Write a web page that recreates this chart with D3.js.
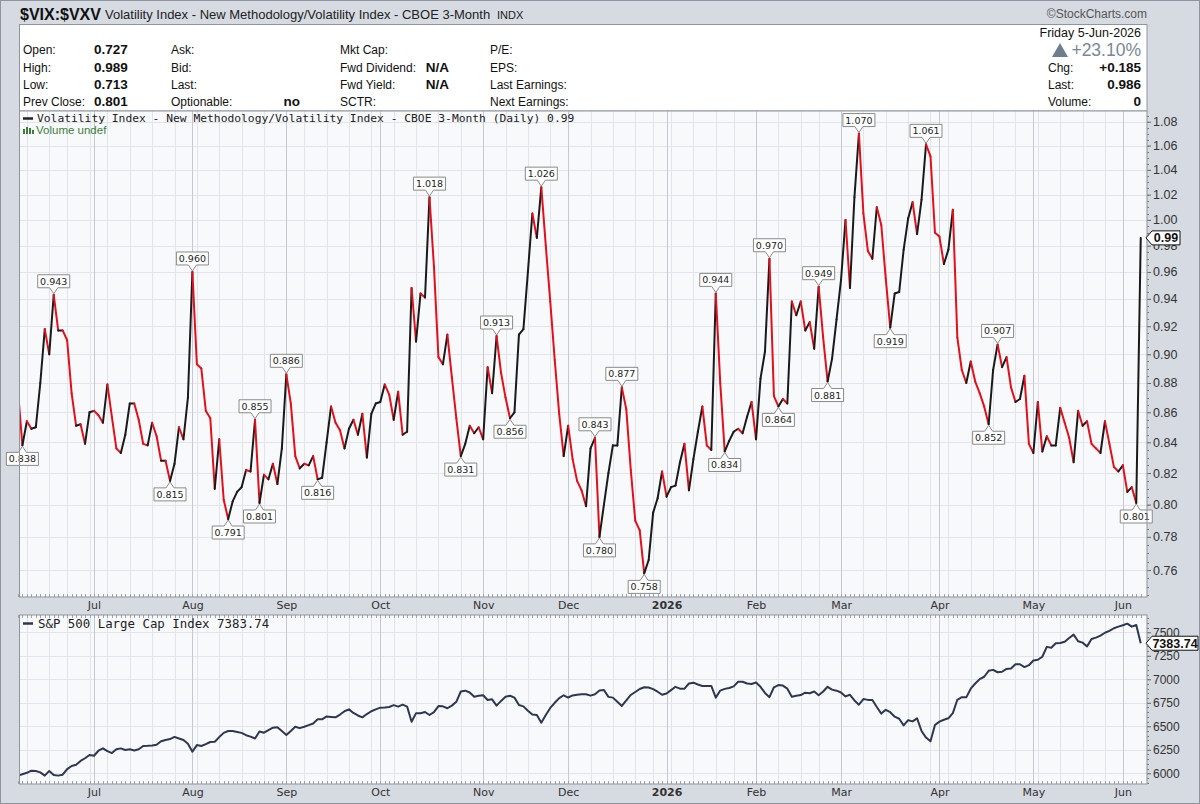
<!DOCTYPE html>
<html>
<head>
<meta charset="utf-8">
<script src="https://cdn.jsdelivr.net/npm/d3@7"></script>
<style>
  body { margin: 0; background: #d6dae1; }
  svg { display: block; font-family: "Liberation Sans", Arial, sans-serif; }
</style>
</head>
<body>
<div id="chart"></div>
<script>
// trading calendar: first and last session, exchange holidays in between
const startDate = "2025-06-05";
const endDate = "2026-06-05";
const holidays = ["2025-06-19", "2025-07-04", "2025-09-01", "2025-11-27", "2025-12-25",
                  "2026-01-01", "2026-01-19", "2026-02-16", "2026-04-03", "2026-05-25"];

// $VIX:$VXV daily close, one value per session
const vixRatio = [
  0.875, 0.838, 0.854, 0.849, 0.850, 0.880, 0.918, 0.900, 0.943, 0.917,
  0.917, 0.910, 0.873, 0.851, 0.852, 0.839, 0.860, 0.861, 0.858, 0.853,
  0.879, 0.857, 0.836, 0.833, 0.845, 0.866, 0.866, 0.855, 0.839, 0.838,
  0.853, 0.844, 0.828, 0.828, 0.815, 0.826, 0.850, 0.842, 0.870, 0.960,
  0.893, 0.890, 0.861, 0.856, 0.810, 0.842, 0.803, 0.791, 0.802, 0.808,
  0.811, 0.822, 0.821, 0.855, 0.801, 0.819, 0.816, 0.826, 0.813, 0.836,
  0.886, 0.866, 0.831, 0.823, 0.826, 0.825, 0.831, 0.816, 0.817, 0.840,
  0.864, 0.853, 0.848, 0.836, 0.849, 0.855, 0.845, 0.859, 0.830, 0.859,
  0.866, 0.867, 0.879, 0.872, 0.855, 0.874, 0.845, 0.847, 0.948, 0.909,
  0.944, 0.941, 1.018, 0.964, 0.898, 0.893, 0.914, 0.884, 0.856, 0.831,
  0.839, 0.851, 0.846, 0.850, 0.842, 0.891, 0.873, 0.913, 0.887, 0.870,
  0.856, 0.860, 0.914, 0.918, 0.960, 1.005, 0.986, 1.026, 0.980, 0.938,
  0.896, 0.859, 0.831, 0.851, 0.829, 0.815, 0.809, 0.799, 0.836, 0.843,
  0.780, 0.800, 0.820, 0.838, 0.838, 0.877, 0.862, 0.822, 0.790, 0.784,
  0.758, 0.766, 0.795, 0.804, 0.821, 0.805, 0.811, 0.812, 0.827, 0.839,
  0.809, 0.829, 0.847, 0.864, 0.838, 0.835, 0.944, 0.880, 0.834, 0.841,
  0.847, 0.849, 0.846, 0.857, 0.867, 0.842, 0.883, 0.902, 0.970, 0.871,
  0.864, 0.869, 0.866, 0.938, 0.928, 0.938, 0.917, 0.923, 0.904, 0.949,
  0.912, 0.881, 0.897, 0.925, 0.954, 1.000, 0.948, 1.018, 1.070, 1.005,
  0.976, 0.970, 1.010, 0.996, 0.955, 0.919, 0.944, 0.945, 0.977, 1.001,
  1.014, 0.989, 1.016, 1.061, 1.051, 0.990, 0.987, 0.966, 0.977, 1.008,
  0.912, 0.889, 0.880, 0.895, 0.881, 0.873, 0.864, 0.852, 0.889, 0.907,
  0.891, 0.898, 0.877, 0.867, 0.869, 0.885, 0.839, 0.833, 0.867, 0.834,
  0.844, 0.838, 0.838, 0.863, 0.853, 0.843, 0.827, 0.861, 0.851, 0.854,
  0.839, 0.836, 0.833, 0.854, 0.839, 0.824, 0.821, 0.825, 0.808, 0.811,
  0.801, 0.986
];

// S&P 500 daily close, same sessions
const spx = [
  5975, 5990, 6005, 6028, 6024, 6010, 5975, 6025, 5982, 5975,
  5985, 6045, 6078, 6090, 6131, 6160, 6195, 6187, 6240, 6265,
  6235, 6215, 6255, 6265, 6248, 6255, 6242, 6255, 6290, 6292,
  6296, 6304, 6340, 6354, 6364, 6387, 6370, 6354, 6315, 6230,
  6300, 6290, 6310, 6333, 6335, 6385, 6430, 6450, 6450, 6440,
  6430, 6405, 6390, 6370, 6445, 6432, 6460, 6485, 6490, 6450,
  6407, 6450, 6495, 6480, 6495, 6512, 6530, 6574, 6574, 6605,
  6600, 6595, 6625, 6660, 6680, 6642, 6615, 6595, 6630, 6660,
  6680, 6698, 6700, 6705, 6725, 6709, 6730, 6710, 6549, 6640,
  6638, 6652, 6620, 6650, 6715, 6712, 6692, 6720, 6760, 6870,
  6879, 6860, 6815, 6825, 6830, 6780, 6787, 6720, 6770, 6815,
  6825, 6805, 6727, 6712, 6665, 6625, 6620, 6538, 6620, 6695,
  6750, 6800, 6830, 6806, 6828, 6836, 6842, 6840, 6826, 6840,
  6880, 6886, 6813, 6805, 6760, 6716, 6775, 6833, 6865, 6897,
  6915, 6912, 6895, 6868, 6835, 6849, 6885, 6920, 6900, 6900,
  6955, 6964, 6945, 6929, 6929, 6929, 6805, 6880, 6898, 6908,
  6925, 6974, 6974, 6955, 6950, 6966, 6920, 6855, 6810, 6915,
  6939, 6933, 6900, 6815, 6824, 6832, 6858, 6851, 6870, 6830,
  6870, 6920, 6890, 6879, 6860, 6818, 6835, 6775, 6730, 6790,
  6781, 6780, 6705, 6635, 6675, 6650, 6602, 6580, 6510, 6565,
  6552, 6584, 6450, 6380, 6340, 6514, 6550, 6570, 6585, 6640,
  6782, 6810, 6808, 6900, 6955, 7002, 7027, 7090, 7100, 7075,
  7080, 7110, 7115, 7160, 7160, 7130, 7150, 7200, 7208, 7240,
  7345, 7335, 7383, 7386, 7400, 7440, 7475, 7405, 7390, 7350,
  7428, 7443, 7465, 7495, 7515, 7543, 7560, 7575, 7592, 7560,
  7578, 7383.74
];

// sessions that carry a value tag
const peakTags = [8, 39, 53, 60, 92, 107, 117, 129, 135, 156, 168, 179, 188, 203, 219];
const troughTags = [1, 34, 47, 54, 67, 99, 110, 130, 140, 158, 170, 181, 195, 217, 250];

const ratioTicks = [0.76, 0.78, 0.80, 0.82, 0.84, 0.86, 0.88, 0.90, 0.92, 0.94,
                    0.96, 0.98, 1.00, 1.02, 1.04, 1.06, 1.08];
const spxTicks = [6000, 6250, 6500, 6750, 7000, 7250, 7500];

// header table
const infoRows = [
  ["Open:", "0.727", "Ask:", "", "Mkt Cap:", "", "P/E:"],
  ["High:", "0.989", "Bid:", "", "Fwd Dividend:", "N/A", "EPS:"],
  ["Low:", "0.713", "Last:", "", "Fwd Yield:", "N/A", "Last Earnings:"],
  ["Prev Close:", "0.801", "Optionable:", "no", "SCTR:", "", "Next Earnings:"]
];
const quoteRows = [["Chg:", "+0.185"], ["Last:", "0.986"], ["Volume:", "0"]];

// ---------------------------------------------------------------
const width = 1200, height = 804;
const main = { left: 19.5, right: 1147, top: 111, bottom: 597 };
const lower = { left: 19.5, right: 1147, top: 615, bottom: 784 };

const parseDay = d3.utcParse("%Y-%m-%d");
const fmtDay = d3.utcFormat("%Y-%m-%d");
const closed = new Set(holidays);
const dates = d3.utcDay.range(parseDay(startDate), d3.utcDay.offset(parseDay(endDate), 1))
  .filter(d => d.getUTCDay() % 6 !== 0 && !closed.has(fmtDay(d)));

const monthStarts = dates.map((d, i) => i).filter(i => i > 0 && dates[i].getUTCMonth() !== dates[i - 1].getUTCMonth());
const weekStarts = dates.map((d, i) => i).filter(i => i > 0 && +d3.utcMonday.floor(dates[i]) !== +d3.utcMonday.floor(dates[i - 1]));
const monthLabel = i => dates[i].getUTCMonth() === 0 ? d3.utcFormat("%Y")(dates[i]) : d3.utcFormat("%b")(dates[i]);

const x = d3.scaleLinear().domain([0.35, vixRatio.length + 0.4]).range([main.left, main.right]);
const yMain = d3.scaleLog().domain([0.7441, 1.0891]).range([main.bottom, main.top]);
const yLow = d3.scaleLinear().domain([5886, 7684]).range([lower.bottom, lower.top]);

const svg = d3.select("#chart").append("svg")
  .attr("width", width)
  .attr("height", height);

svg.append("rect").attr("width", width).attr("height", height).attr("fill", "#d6dae1");
svg.append("rect").attr("x", 0.5).attr("y", 0.5).attr("width", width - 1).attr("height", height - 1)
  .attr("fill", "none").attr("stroke", "#8f959f");

// title line
svg.append("text").attr("x", 20).attr("y", 20)
  .style("font-size", "16px").style("font-weight", "bold").attr("fill", "#111")
  .text("$VIX:$VXV");
svg.append("text").attr("x", 105).attr("y", 19)
  .style("font-size", "13px").attr("fill", "#222")
  .text("Volatility Index - New Methodology/Volatility Index - CBOE 3-Month");
svg.append("text").attr("x", 497).attr("y", 19)
  .style("font-size", "11px").attr("fill", "#222")
  .text("INDX");
svg.append("text").attr("x", 1147).attr("y", 18).attr("text-anchor", "end")
  .style("font-size", "12px").attr("fill", "#555")
  .text("\u00A9StockCharts.com");

// header panel
svg.append("rect").attr("x", main.left).attr("y", 24.5)
  .attr("width", main.right - main.left).attr("height", main.top - 24.5)
  .attr("fill", "#fff").attr("stroke", "#8f959f");

const rowY = [54, 72, 89, 106];
const info = svg.append("g").style("font-size", "12px").attr("fill", "#111");
infoRows.forEach((r, k) => {
  const y = rowY[k];
  info.append("text").attr("x", 23).attr("y", y).text(r[0]);
  info.append("text").attr("x", 94).attr("y", y).style("font-size", "13.5px").style("font-weight", "bold").text(r[1]);
  info.append("text").attr("x", 171).attr("y", y).text(r[2]);
  info.append("text").attr("x", 300).attr("y", y).attr("text-anchor", "end").style("font-size", "13.5px").style("font-weight", "bold").text(r[3]);
  info.append("text").attr("x", 340).attr("y", y).text(r[4]);
  info.append("text").attr("x", 449).attr("y", y).attr("text-anchor", "end").style("font-size", "13.5px").style("font-weight", "bold").text(r[5]);
  info.append("text").attr("x", 490).attr("y", y).text(r[6]);
});
info.append("text").attr("x", 1141).attr("y", 37).attr("text-anchor", "end").style("font-size", "12.5px")
  .text("Friday  5-Jun-2026");
info.append("path").attr("d", "M1052,57L1068,57L1060,43Z").attr("fill", "#6f7e8d");
info.append("text").attr("x", 1141).attr("y", 56).attr("text-anchor", "end")
  .style("font-size", "17.5px").attr("fill", "#7b8794").text("+23.10%");
quoteRows.forEach((r, k) => {
  const y = rowY[k + 1];
  info.append("text").attr("x", 1048).attr("y", y).text(r[0]);
  info.append("text").attr("x", 1141).attr("y", y).attr("text-anchor", "end")
    .style("font-size", "13.5px").style("font-weight", "bold").text(r[1]);
});

// plot panels
function panel(box, yScale, ticks, minorStep, name) {
  const g = svg.append("g");
  g.append("rect").attr("x", box.left).attr("y", box.top)
    .attr("width", box.right - box.left).attr("height", box.bottom - box.top)
    .attr("fill", "#f8f9fb");

  g.selectAll("line.hgrid").data(ticks).join("line")
    .attr("x1", box.left).attr("x2", box.right)
    .attr("y1", d => Math.round(yScale(d)) + 0.5).attr("y2", d => Math.round(yScale(d)) + 0.5)
    .attr("stroke", "#e1e4ea");
  g.selectAll("line.week").data(weekStarts).join("line")
    .attr("x1", d => Math.round(x(d)) + 0.5).attr("x2", d => Math.round(x(d)) + 0.5)
    .attr("y1", box.top).attr("y2", box.bottom)
    .attr("stroke", "#e1e4ea");
  g.selectAll("line.month").data(monthStarts).join("line")
    .attr("x1", d => Math.round(x(d)) + 0.5).attr("x2", d => Math.round(x(d)) + 0.5)
    .attr("y1", box.top).attr("y2", box.bottom)
    .attr("stroke", "#c4c8d0");

  // session ticks along the bottom and top edges
  g.selectAll("line.day").data(dates.map((d, i) => i)).join("line")
    .attr("x1", d => Math.round(x(d)) + 0.5).attr("x2", d => Math.round(x(d)) + 0.5)
    .attr("y1", box.bottom - 3).attr("y2", box.bottom)
    .attr("stroke", "#9ea3ac");
  if (name === "lower") {
    g.selectAll("line.dayTop").data(dates.map((d, i) => i)).join("line")
      .attr("x1", d => Math.round(x(d)) + 0.5).attr("x2", d => Math.round(x(d)) + 0.5)
      .attr("y1", box.top).attr("y2", box.top + 3)
      .attr("stroke", "#9ea3ac");
  }

  // right axis
  const axis = svg.append("g")
    .attr("transform", `translate(${box.right},0)`)
    .call(d3.axisRight(yScale).tickValues(ticks)
      .tickFormat(name === "main" ? d3.format(".2f") : d3.format("d"))
      .tickSize(4).tickPadding(2));
  axis.select(".domain").remove();
  axis.selectAll("line").attr("stroke", "#666");
  axis.selectAll("text").attr("fill", "#333")
    .style("font-family", "'Liberation Sans', Arial, sans-serif")
    .style("font-size", name === "main" ? "12.5px" : "12px");

  const dom = yScale.domain();
  const minor = d3.range(Math.ceil(dom[0] / minorStep) * minorStep, dom[1], minorStep);
  svg.append("g").selectAll("line").data(minor).join("line")
    .attr("x1", box.right).attr("x2", box.right + 2)
    .attr("y1", d => Math.round(yScale(d)) + 0.5).attr("y2", d => Math.round(yScale(d)) + 0.5)
    .attr("stroke", "#777");

  return g;
}

panel(main, yMain, ratioTicks, 0.005, "main");
panel(lower, yLow, spxTicks, 50, "lower");

// clip paths
const defs = svg.append("defs");
defs.append("clipPath").attr("id", "clipMain").append("rect")
  .attr("x", main.left).attr("y", main.top).attr("width", main.right - main.left).attr("height", main.bottom - main.top);
defs.append("clipPath").attr("id", "clipLow").append("rect")
  .attr("x", lower.left).attr("y", lower.top).attr("width", lower.right - lower.left).attr("height", lower.bottom - lower.top);

// ratio line: red on down days, black on up days
const pts = vixRatio.map((v, i) => ({ i, v }));
svg.append("g").attr("clip-path", "url(#clipMain)")
  .selectAll("line").data(d3.pairs(pts)).join("line")
  .attr("x1", d => x(d[0].i)).attr("y1", d => yMain(d[0].v))
  .attr("x2", d => x(d[1].i)).attr("y2", d => yMain(d[1].v))
  .attr("stroke", d => d[1].v < d[0].v ? "#e2101c" : "#1a1a1a")
  .attr("stroke-width", 2)
  .attr("stroke-linecap", "round");

// S&P line
const spxLine = d3.line().x((d, i) => x(i)).y(d => yLow(d));
svg.append("path").attr("clip-path", "url(#clipLow)")
  .datum(spx)
  .attr("fill", "none")
  .attr("stroke", "#2d3850")
  .attr("stroke-width", 2)
  .attr("stroke-linejoin", "round")
  .attr("d", spxLine);

// value tags at swing highs and lows
const tags = peakTags.map(i => ({ i, up: true })).concat(troughTags.map(i => ({ i, up: false })));
const tw = 32, th = 13, gap = 7;
const tagG = svg.append("g");
tags.forEach(t => {
  const px = x(t.i), py = yMain(vixRatio[t.i]);
  const s = t.up ? -1 : 1;
  const tipY = py + s * 1, baseY = py + s * gap, farY = baseY + s * th;
  const path = `M${px},${tipY}L${px - 4},${baseY}L${px - tw / 2},${baseY}L${px - tw / 2},${farY}` +
               `L${px + tw / 2},${farY}L${px + tw / 2},${baseY}L${px + 4},${baseY}Z`;
  tagG.append("path").attr("d", path).attr("fill", "#fff").attr("stroke", "#8a8a8a");
  tagG.append("text").attr("x", px).attr("y", (baseY + farY) / 2 + 3.5)
    .attr("text-anchor", "middle")
    .style("font-family", "'DejaVu Sans', sans-serif").style("font-size", "9.5px")
    .attr("fill", "#222")
    .text(d3.format(".3f")(vixRatio[t.i]));
});

// borders
[main, lower].forEach(b => {
  svg.append("rect").attr("x", b.left).attr("y", b.top)
    .attr("width", b.right - b.left).attr("height", b.bottom - b.top)
    .attr("fill", "none").attr("stroke", "#8f959f");
});

// month axes
function monthAxis(y) {
  const a = svg.append("g").attr("transform", `translate(0,${y})`)
    .call(d3.axisBottom(x).tickValues(monthStarts).tickFormat(monthLabel).tickSize(0).tickPadding(4));
  a.select(".domain").remove();
  a.selectAll("text").attr("fill", "#333")
    .style("font-family", "'DejaVu Sans', sans-serif").style("font-size", "11px")
    .style("font-weight", d => dates[d].getUTCMonth() === 0 ? "bold" : "normal");
}
monthAxis(main.bottom);
monthAxis(lower.bottom);

// legends
svg.append("line").attr("x1", 23).attr("x2", 33).attr("y1", 118.5).attr("y2", 118.5)
  .attr("stroke", "#222").attr("stroke-width", 2.5);
svg.append("text").attr("x", 37).attr("y", 122)
  .style("font-family", "'DejaVu Sans Mono', monospace").style("font-size", "11.3px").attr("fill", "#222")
  .text("Volatility Index - New Methodology/Volatility Index - CBOE 3-Month (Daily) 0.99");
const vol = svg.append("g").attr("fill", "#3d7f3d");
[[23, 129, 5], [26, 127, 7], [29, 128, 6], [32, 130, 4]].forEach(b =>
  vol.append("rect").attr("x", b[0]).attr("y", b[1]).attr("width", 2).attr("height", b[2]));
vol.append("text").attr("x", 36).attr("y", 134).style("font-size", "11.5px").text("Volume undef");

svg.append("line").attr("x1", 23).attr("x2", 33).attr("y1", 623.5).attr("y2", 623.5)
  .attr("stroke", "#2d3850").attr("stroke-width", 2.5);
svg.append("text").attr("x", 38).attr("y", 627.5)
  .style("font-family", "'DejaVu Sans Mono', monospace").style("font-size", "12.4px").attr("fill", "#222")
  .text("S&P 500 Large Cap Index " + d3.format(".2f")(spx[spx.length - 1]));

// last-value flags on the right axes
function flag(yPos, label, w) {
  const g = svg.append("g");
  g.append("path")
    .attr("d", `M${main.right - 1},${yPos}L${main.right + 5},${yPos - 7}L${main.right + 5 + w},${yPos - 7}` +
               `L${main.right + 5 + w},${yPos + 7}L${main.right + 5},${yPos + 7}Z`)
    .attr("fill", "#fff").attr("stroke", "#111");
  g.append("text").attr("x", main.right + 5 + w / 2).attr("y", yPos + 4.5)
    .attr("text-anchor", "middle").style("font-size", "12.5px").style("font-weight", "bold")
    .attr("fill", "#111").text(label);
}
flag(yMain(vixRatio[vixRatio.length - 1]), d3.format(".2f")(vixRatio[vixRatio.length - 1]), 28);
flag(yLow(spx[spx.length - 1]), d3.format(".2f")(spx[spx.length - 1]), 46);
</script>
</body>
</html>
